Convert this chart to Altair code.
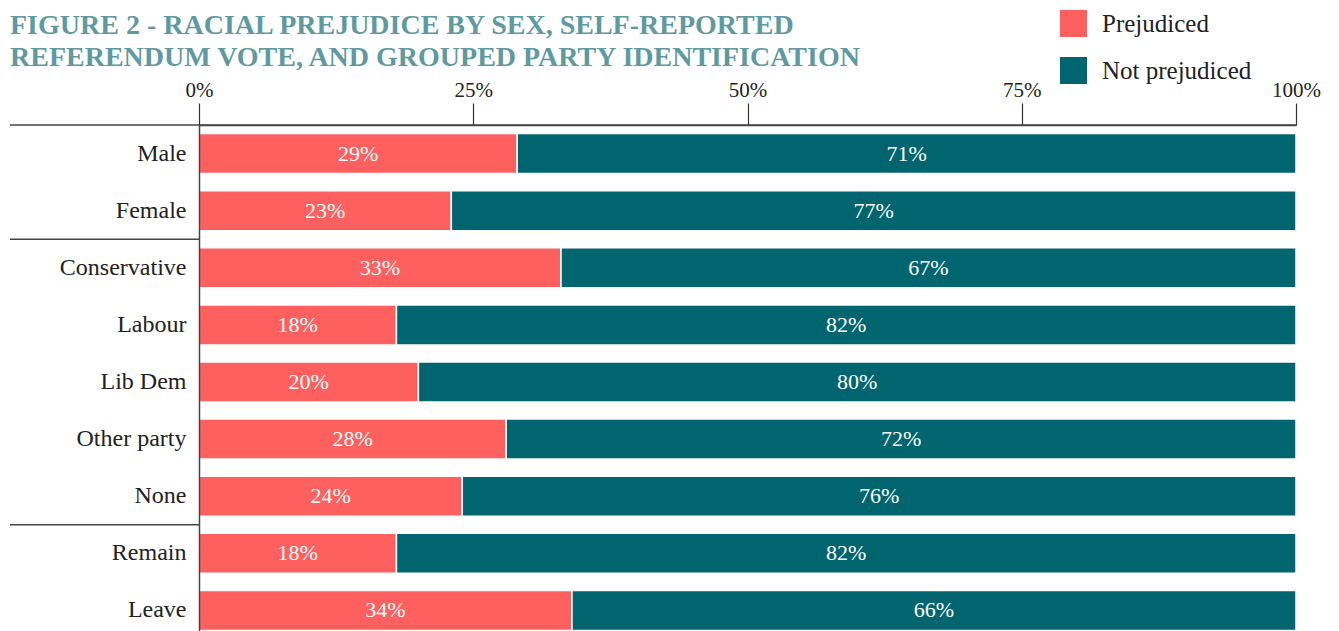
import altair as alt
import pandas as pd

categories = ["Male", "Female", "Conservative", "Labour", "Lib Dem",
              "Other party", "None", "Remain", "Leave"]
prejudiced = [29, 23, 33, 18, 20, 28, 24, 18, 34]
not_prejudiced = [71, 77, 67, 82, 80, 72, 76, 82, 66]
series = ["Prejudiced", "Not prejudiced"]
colors = ["#FE5F5F", "#00656E"]
tick_values = [0, 25, 50, 75, 100]
group_starts = ["Conservative", "Remain"]
title_lines = ["FIGURE 2 - RACIAL PREJUDICE BY SEX, SELF-REPORTED",
               "REFERENDUM VOTE, AND GROUPED PARTY IDENTIFICATION"]

rows = []
for c, p, n in zip(categories, prejudiced, not_prejudiced):
    rows.append({"category": c, "series": series[0], "value": p, "order": 0})
    rows.append({"category": c, "series": series[1], "value": n, "order": 1})
df = pd.DataFrame(rows)

W = 1097
H = 506
FONT = "Liberation Serif"
STEP = 514 / 9
yscale = alt.Scale(domain=categories, range=[0, 514], paddingInner=0.3, paddingOuter=0.15)

base = alt.Chart(df)

bars = base.mark_bar(stroke="white", strokeWidth=1.5).encode(
    y=alt.Y("category:N", scale=yscale, sort=categories,
            axis=alt.Axis(title=None, ticks=False, labelFont=FONT, labelFontSize=24,
                          labelColor="#222", labelPadding=13, domainColor="#444",
                          domainWidth=1.5, zindex=1)),
    x=alt.X("value:Q", stack="zero", scale=alt.Scale(domain=[0, 100]),
            axis=alt.Axis(orient="top", values=tick_values, labelExpr="datum.value + '%'",
                          title=None, grid=False, tickSize=22, tickColor="#333",
                          tickWidth=1.2, domainColor="#444", domainWidth=1.5,
                          labelFont=FONT, labelFontSize=21, labelColor="#222",
                          labelPadding=3, labelFlush=False, labelOverlap=False,
                          zindex=1)),
    color=alt.Color("series:N", scale=alt.Scale(domain=series, range=colors),
                    legend=alt.Legend(title=None, orient="none", legendX=861, legendY=-115,
                                      symbolType="square", symbolSize=729,
                                      symbolStrokeWidth=0, labelFont=FONT,
                                      labelFontSize=25, labelColor="#222",
                                      labelOffset=15, rowPadding=20, padding=0)),
    order=alt.Order("order:Q"),
)

labels = base.transform_stack(
    stack="value", groupby=["category"], as_=["x0", "x1"],
    sort=[alt.SortField("order", order="ascending")]
).transform_calculate(
    mid="(datum.x0 + datum.x1) / 2", label="datum.value + '%'"
).mark_text(color="white", font=FONT, fontSize=22).encode(
    y=alt.Y("category:N", scale=yscale, sort=categories),
    x=alt.X("mid:Q"),
    text="label:N",
)

sep = alt.Chart(pd.DataFrame({"category": group_starts})).mark_rule(
    color="#444", strokeWidth=1.5, yOffset=-0.15 * STEP
).encode(
    y=alt.Y("category:N", scale=yscale, sort=categories, bandPosition=0),
    x=alt.value(-189), x2=alt.value(0),
)

top = alt.Chart(pd.DataFrame({"category": categories[:1]})).mark_rule(
    color="#444", strokeWidth=1.5, yOffset=-0.15 * STEP
).encode(
    y=alt.Y("category:N", scale=yscale, sort=categories, bandPosition=0),
    x=alt.value(-189), x2=alt.value(W),
)

chart = alt.layer(bars, labels, sep, top).properties(
    width=W, height=H,
    title=alt.TitleParams(title_lines, anchor="start", frame="group", font=FONT,
                          fontSize=28, fontWeight="bold", color="#5E9AA0",
                          dx=-189, dy=72, lineHeight=32, offset=10),
    autosize=alt.AutoSizeParams(type="none"),
    padding={"left": 199, "top": 125, "right": 43, "bottom": 0},
).configure_view(stroke=None)

chart.save("out.html", embed_options={"renderer": "svg", "actions": False})
